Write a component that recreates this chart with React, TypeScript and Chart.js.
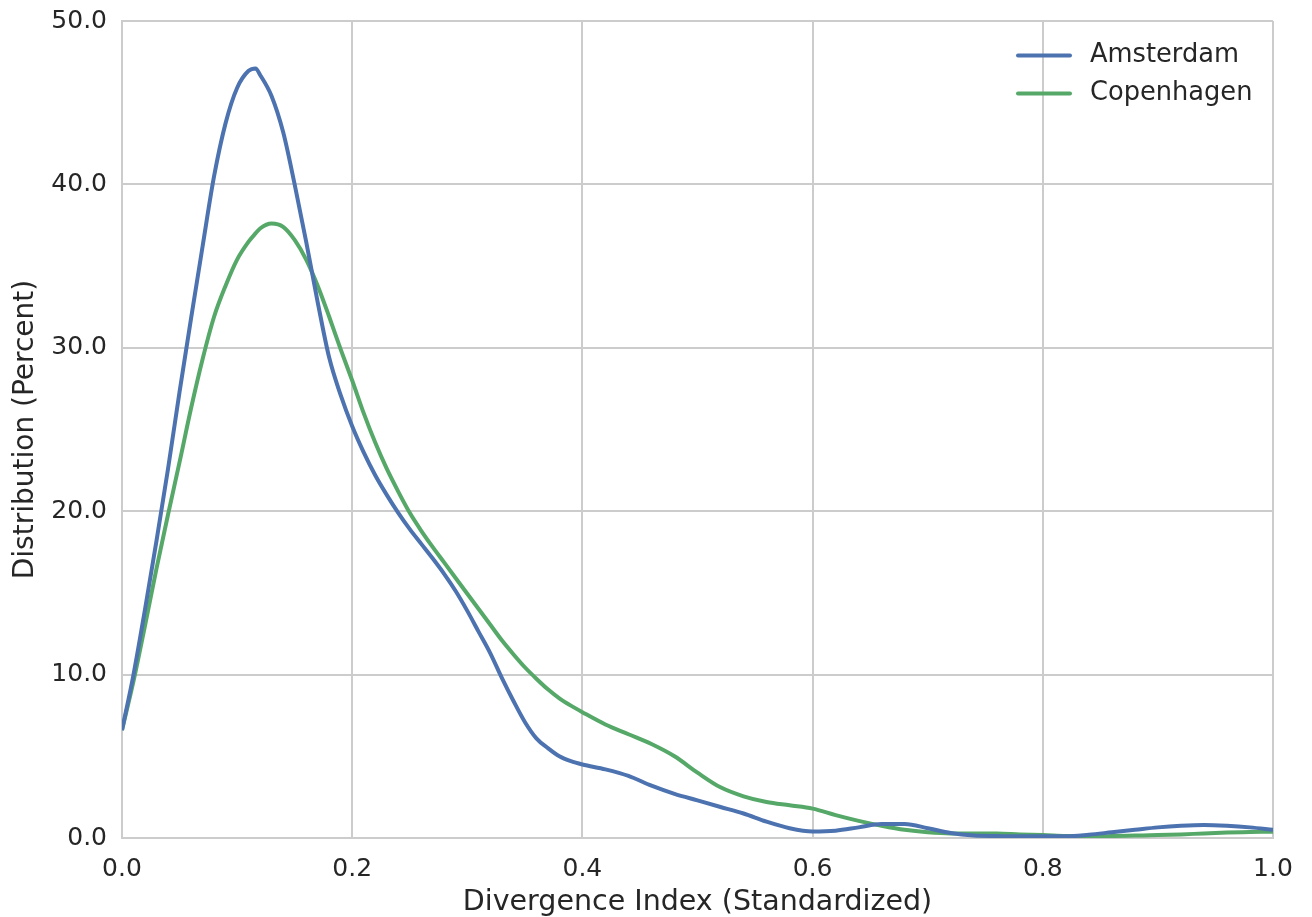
import React, { useEffect, useRef } from "react";
import { Chart, registerables } from "chart.js";

Chart.register(...registerables);

const X_VALUES = [
  0.0, 0.01, 0.02, 0.03, 0.04, 0.05, 0.06, 0.07, 0.08, 0.09,
  0.1, 0.11, 0.116, 0.12, 0.13, 0.14, 0.15, 0.16, 0.17, 0.18, 0.19,
  0.2, 0.21, 0.22, 0.23, 0.24, 0.25, 0.26, 0.27, 0.28, 0.29,
  0.3, 0.31, 0.32, 0.33, 0.34, 0.35, 0.36, 0.37, 0.38, 0.39,
  0.4, 0.42, 0.44, 0.46, 0.48, 0.5, 0.52, 0.54, 0.56, 0.58,
  0.6, 0.62, 0.64, 0.66, 0.68, 0.7, 0.72, 0.74, 0.76, 0.78,
  0.8, 0.82, 0.84, 0.86, 0.88, 0.9, 0.92, 0.94, 0.96, 0.98, 1.0,
];

const AMSTERDAM = [
  6.6, 10.0, 14.0, 18.2, 22.6, 27.3, 31.8, 36.2, 40.5, 43.75,
  45.9, 46.95, 47.1, 46.7, 45.4, 43.2, 40.0, 36.5, 32.8, 29.4, 27.1,
  25.2, 23.6, 22.2, 21.0, 19.9, 18.9, 18.0, 17.1, 16.15, 15.1,
  13.9, 12.6, 11.3, 9.8, 8.4, 7.1, 6.1, 5.5, 5.0, 4.7,
  4.5, 4.2, 3.8, 3.2, 2.7, 2.3, 1.9, 1.5, 1.0, 0.6,
  0.4, 0.45, 0.65, 0.85, 0.85, 0.6, 0.3, 0.15, 0.12, 0.1,
  0.1, 0.1, 0.2, 0.35, 0.5, 0.65, 0.75, 0.8, 0.75, 0.65, 0.5,
];

const COPENHAGEN = [
  6.6, 9.6, 13.0, 16.5, 19.8, 23.0, 26.3, 29.3, 31.9, 33.8,
  35.4, 36.5, 37.0, 37.3, 37.6, 37.4, 36.6, 35.4, 33.8, 31.9, 29.9,
  28.0, 26.0, 24.2, 22.6, 21.2, 19.9, 18.8, 17.8, 16.85, 15.9,
  14.95, 14.0, 13.05, 12.1, 11.25, 10.45, 9.75, 9.1, 8.55, 8.1,
  7.7, 6.95, 6.35, 5.75, 5.0, 4.0, 3.1, 2.55, 2.2, 2.0,
  1.8, 1.4, 1.05, 0.75, 0.5, 0.35, 0.28, 0.28, 0.28, 0.22,
  0.18, 0.12, 0.1, 0.12, 0.15, 0.18, 0.22, 0.28, 0.33, 0.36, 0.39,
];

const SERIES_NAMES = ["Amsterdam", "Copenhagen"];
const SERIES_COLORS = ["#4C72B0", "#55A868"];
const X_TITLE = "Divergence Index (Standardized)";
const Y_TITLE = "Distribution (Percent)";

const FONT = "'DejaVu Sans', sans-serif";
const TEXT = "#262626";
const GRID = "#cccccc";

const legendPlugin = {
  id: "insideLegend",
  afterDraw(chart: any) {
    const ctx = chart.ctx;
    ctx.save();
    chart.data.datasets.forEach((ds: any, i: number) => {
      const y = 55.5 + i * 38;
      ctx.strokeStyle = ds.borderColor;
      ctx.lineWidth = 4;
      ctx.lineCap = "round";
      ctx.beginPath();
      ctx.moveTo(1018, y);
      ctx.lineTo(1070, y);
      ctx.stroke();
      ctx.fillStyle = TEXT;
      ctx.font = `25.7px ${FONT}`;
      ctx.textAlign = "left";
      ctx.textBaseline = "middle";
      ctx.fillText(ds.label, 1090, y);
    });
    ctx.restore();
  },
};

export default function App() {
  const ref = useRef<HTMLCanvasElement | null>(null);
  useEffect(() => {
    document.body.style.margin = "0";
    const seriesList = [AMSTERDAM, COPENHAGEN];
    const chart = new Chart(ref.current as HTMLCanvasElement, {
      type: "line",
      data: {
        datasets: seriesList.map((vals, i) => ({
          label: SERIES_NAMES[i],
          data: X_VALUES.map((x, j) => ({ x, y: vals[j] })),
          borderColor: SERIES_COLORS[i],
          backgroundColor: SERIES_COLORS[i],
          borderWidth: 4,
          pointRadius: 0,
          cubicInterpolationMode: "monotone" as const,
          fill: false,
        })),
      },
      options: {
        responsive: false,
        animation: false,
        layout: { padding: { left: 0, top: 21, right: 39, bottom: 0 } },
        plugins: { legend: { display: false }, tooltip: { enabled: false } },
        scales: {
          x: {
            type: "linear",
            min: 0,
            max: 1,
            afterFit: (s: any) => {
              s.height = 79;
              s.paddingLeft = 0;
              s.paddingRight = 0;
            },
            ticks: {
              stepSize: 0.2,
              color: TEXT,
              font: { family: FONT, size: 25 },
              padding: 16,
              maxRotation: 0,
              callback: (v: any) => Number(v).toFixed(1),
            },
            grid: { color: GRID, lineWidth: 2, drawTicks: false },
            border: { color: GRID, width: 2 },
            title: {
              display: true,
              text: X_TITLE,
              color: TEXT,
              font: { family: FONT, size: 28.5 },
              padding: { top: 0, bottom: -3 },
            },
          },
          y: {
            type: "linear",
            min: 0,
            max: 50,
            afterFit: (s: any) => {
              s.width = 122;
              s.paddingTop = 0;
              s.paddingBottom = 0;
            },
            ticks: {
              stepSize: 10,
              color: TEXT,
              font: { family: FONT, size: 25 },
              padding: 15,
              callback: (v: any) => Number(v).toFixed(1),
            },
            grid: { color: GRID, lineWidth: 2, drawTicks: false },
            border: { color: GRID, width: 2 },
            title: {
              display: true,
              text: Y_TITLE,
              color: TEXT,
              font: { family: FONT, size: 28 },
              padding: { top: 9, bottom: 0 },
            },
          },
        },
      },
      plugins: [legendPlugin],
    });
    return () => chart.destroy();
  }, []);
  return (
    <div style={{ position: "absolute", left: 0, top: 0, width: 1312, height: 917 }}>
      <canvas ref={ref} width={1312} height={917} style={{ display: "block" }} />
    </div>
  );
}
